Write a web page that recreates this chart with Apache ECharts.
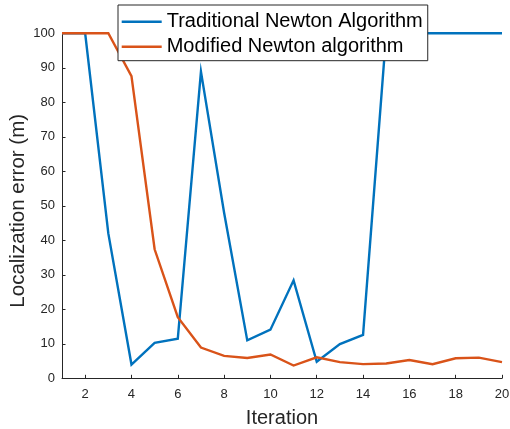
<!DOCTYPE html>
<html>
<head>
<meta charset="utf-8">
<style>
  html, body { margin: 0; padding: 0; background: #fff; }
  #chart { width: 510px; height: 429px; }
</style>
<script src="https://cdn.jsdelivr.net/npm/echarts@6/dist/echarts.min.js"></script>
</head>
<body>
<div id="chart"></div>
<script>
// Iteration index (x axis)
const iterations = [1, 2, 3, 4, 5, 6, 7, 8, 9, 10, 11, 12, 13, 14, 15, 16, 17, 18, 19, 20];

// Localization error (m) per iteration
const traditionalNewton = [100, 100, 42, 4, 10.3, 11.5, 88.9, 48, 11, 14.1, 28.4, 4.8, 9.9, 12.6, 100, 100, 100, 100, 100, 100];
const modifiedNewton = [100, 100, 100, 87.6, 37.4, 17.7, 8.9, 6.5, 5.9, 6.9, 3.7, 6.1, 4.7, 4.1, 4.3, 5.3, 4.1, 5.8, 6.0, 4.7];

// Series names shown in the legend
const seriesNames = ['Traditional Newton Algorithm', 'Modified Newton algorithm'];

// y axis range and step
const yMin = 0, yMax = 100, yStep = 10;

const FONT = '"Liberation Sans", Arial, Helvetica, sans-serif';
const AXIS_COLOR = '#262626';

const chart = echarts.init(document.getElementById('chart'), null, { renderer: 'canvas' });

// only even iterations carry a tick and a label
const evenOnly = (idx, val) => Number(val) % 2 === 0;

chart.setOption({
  animation: false,
  backgroundColor: '#ffffff',
  textStyle: { fontFamily: FONT },
  grid: { left: 62, right: 8, top: 33.3, bottom: 50.7, containLabel: false, outerBoundsMode: 'none' },
  legend: {
    orient: 'vertical',
    left: 118,
    top: 5,
    padding: [6.7, 5, 4, 3.7],
    itemGap: 5,
    itemWidth: 40,
    itemHeight: 14,
    backgroundColor: '#ffffff',
    borderColor: AXIS_COLOR,
    borderWidth: 1,
    borderRadius: 0,
    data: seriesNames.map(n => ({ name: n, icon: 'path://M0,6 L40,6 L40,8.4 L0,8.4 Z' })),
    textStyle: { fontFamily: FONT, fontSize: 20, color: '#000', lineHeight: 20 }
  },
  xAxis: {
    type: 'category',
    data: iterations.map(String),
    boundaryGap: false,
    name: 'Iteration',
    nameLocation: 'middle',
    nameGap: 30,
    nameMoveOverlap: false,
    nameTextStyle: { fontFamily: FONT, fontSize: 20, color: AXIS_COLOR },
    axisLine: { show: true, lineStyle: { color: AXIS_COLOR, width: 1 } },
    axisTick: { show: true, inside: true, length: 3.5, interval: evenOnly, lineStyle: { color: AXIS_COLOR } },
    axisLabel: { interval: evenOnly, margin: 9.5, fontFamily: FONT, fontSize: 13, color: AXIS_COLOR },
    splitLine: { show: false }
  },
  yAxis: {
    type: 'value',
    min: yMin,
    max: yMax,
    interval: yStep,
    name: 'Localization error (m)',
    nameLocation: 'middle',
    nameGap: 33,
    nameMoveOverlap: false,
    nameTextStyle: { fontFamily: FONT, fontSize: 20.5, color: AXIS_COLOR, padding: [0, 10, 0, 0] },
    axisLine: { show: true, lineStyle: { color: AXIS_COLOR, width: 1 } },
    axisTick: { show: true, inside: true, length: 3.5, lineStyle: { color: AXIS_COLOR } },
    axisLabel: { margin: 7, fontFamily: FONT, fontSize: 13, color: AXIS_COLOR },
    splitLine: { show: false }
  },
  series: [
    {
      name: seriesNames[0],
      type: 'line',
      data: traditionalNewton,
      symbol: 'none',
      color: '#0072BD',
      lineStyle: { color: '#0072BD', width: 2.4, join: 'miter' },
      z: 2
    },
    {
      name: seriesNames[1],
      type: 'line',
      data: modifiedNewton,
      symbol: 'none',
      color: '#D95319',
      lineStyle: { color: '#D95319', width: 2.4, join: 'miter' },
      z: 3
    }
  ]
});
</script>
</body>
</html>
